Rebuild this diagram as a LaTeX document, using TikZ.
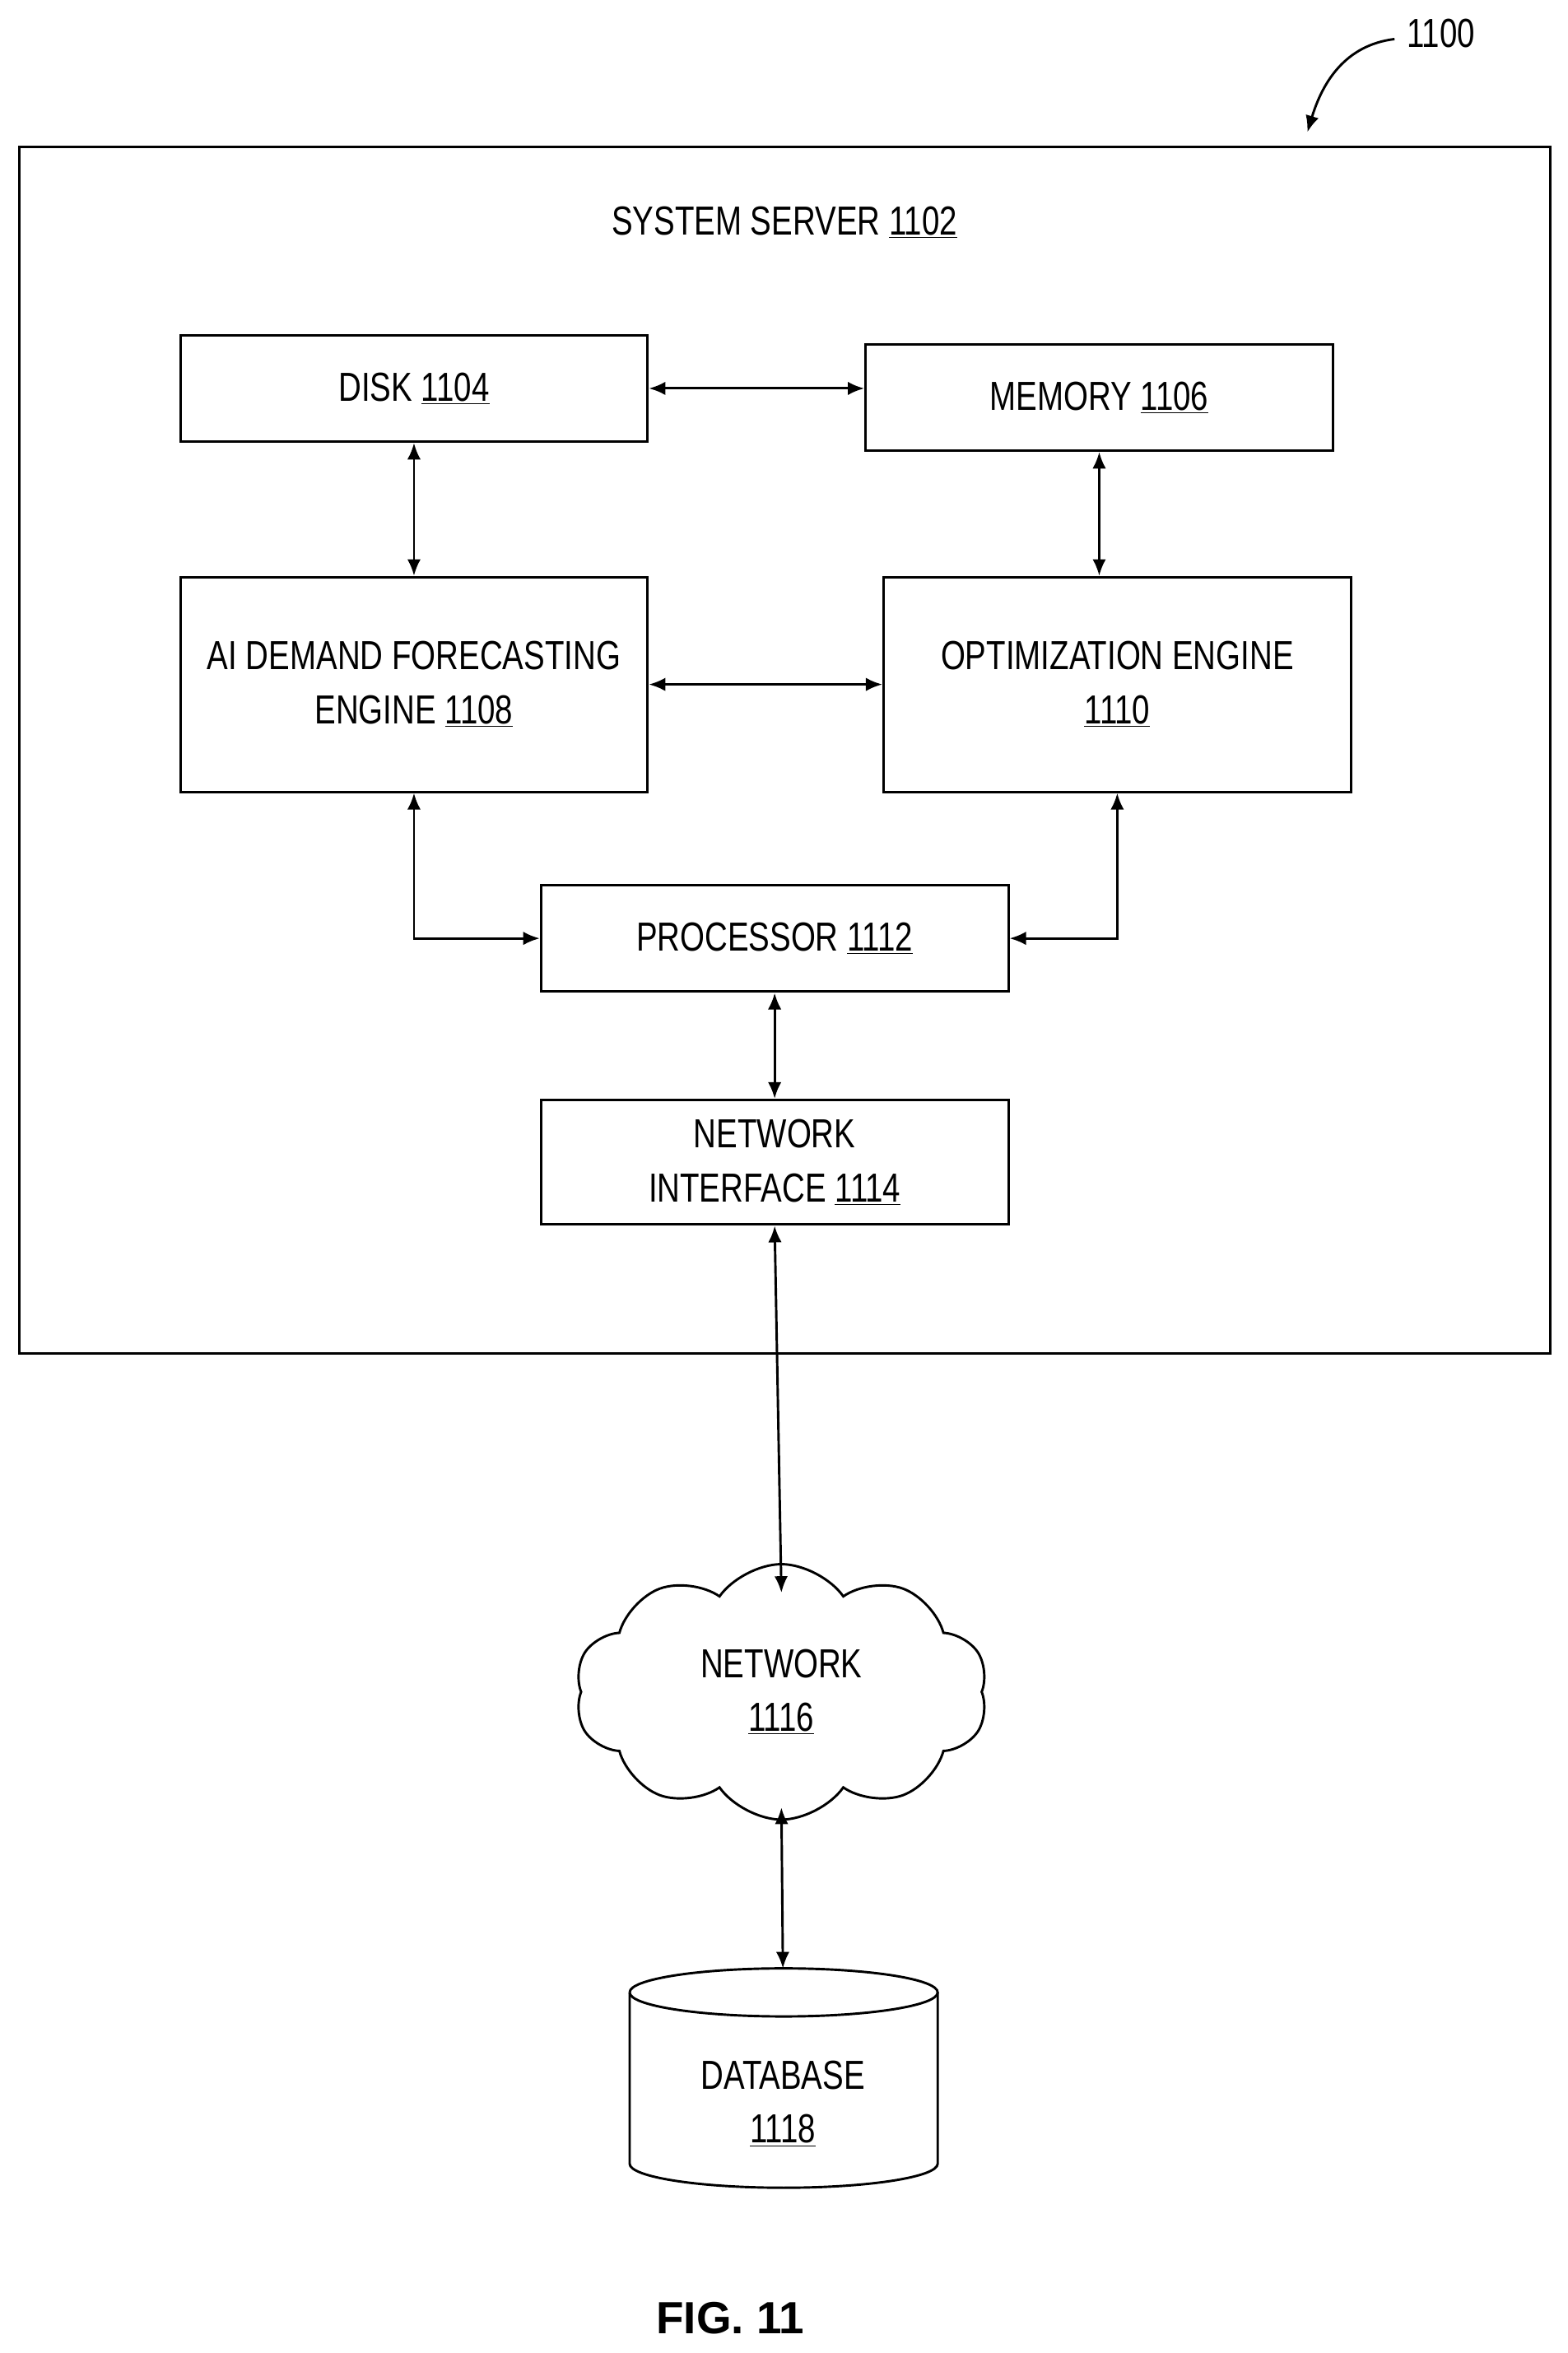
\documentclass[tikz,border=0pt]{standalone}
\usepackage{fontspec}
\setmainfont[FakeStretch=0.78]{Liberation Sans}
\newfontfamily\figfont{Liberation Sans}
\usetikzlibrary{shapes.symbols,arrows.meta}
\begin{document}
\begin{tikzpicture}[x=1pt,y=-1pt,line width=1.6pt,
  box/.style={draw,rectangle,inner sep=0pt,align=center,font=\fontsize{27}{36}\selectfont},
  arr/.style={{Latex[length=11pt,width=9pt]}-{Latex[length=11pt,width=9pt]}},
  lbl/.style={font=\fontsize{27}{36}\selectfont,align=center}]
\useasboundingbox (0,0) rectangle (1043,1566);
\node[draw,rectangle,minimum width=1019pt,minimum height=803pt,anchor=north west] (srv) at (12,97) {};
\node[lbl] (srvl) at (522,148) {SYSTEM SERVER \underline{1102}};
\node[box,minimum width=311pt,minimum height=71pt] (disk) at (275.5,258.5) {DISK \underline{1104}};
\node[box,minimum width=311pt,minimum height=71pt] (mem) at (731.5,264.5) {MEMORY \underline{1106}};
\node[box,minimum width=311pt,minimum height=143pt] (ai) at (275.5,455.5) {AI DEMAND FORECASTING\\ENGINE \underline{1108}};
\node[box,minimum width=311pt,minimum height=143pt] (opt) at (743.5,455.5) {OPTIMIZATION ENGINE\\\underline{1110}};
\node[box,minimum width=311pt,minimum height=71pt] (proc) at (515.5,624.5) {PROCESSOR \underline{1112}};
\node[box,minimum width=311pt,minimum height=83pt] (ni) at (515.5,773.5) {NETWORK\\INTERFACE \underline{1114}};
\node[cloud,draw,cloud puffs=10,cloud puff arc=110,aspect=1.6,minimum width=275pt,minimum height=170pt,lbl] (net) at (520,1126) {NETWORK\\\underline{1116}};
% database
\coordinate (dbtop) at (521,1310);
\draw (419,1326) arc[start angle=180,end angle=-180,x radius=102.5,y radius=16];
\draw (419,1326) -- (419,1440) arc[start angle=180,end angle=0,x radius=102.5,y radius=16] -- (624,1326);
\node[lbl] (db) at (521,1400) {DATABASE\\\underline{1118}};
% connectors
\draw[arr] (disk.east) -- (disk.east -| mem.west);
\draw[arr] (disk.south) -- (ai.north);
\draw[arr] (mem.south) -- (opt.north -| mem.south);
\draw[arr] (ai.east) -- (opt.west);
\draw[arr] (ai.south) |- (proc.west);
\draw[arr] (opt.south) |- (proc.east);
\draw[arr] (proc.south) -- (ni.north);
\coordinate (cin) at (520,1060);
\draw[arr] (ni.south) -- (cin);
\coordinate (cout) at (520,1203);
\draw[arr] (cout) -- (dbtop);
% ref label
\node[lbl,anchor=west] (ref) at (932,22) {1100};
\coordinate (refend) at (870,88);
\draw[-{Latex[length=11pt,width=9pt]}] (928,26) .. controls (895,30) and (880,55) .. (refend);
\node[font=\figfont\fontsize{30}{36}\selectfont\bfseries] (fig) at (486,1543) {FIG. 11};
\end{tikzpicture}
\end{document}
